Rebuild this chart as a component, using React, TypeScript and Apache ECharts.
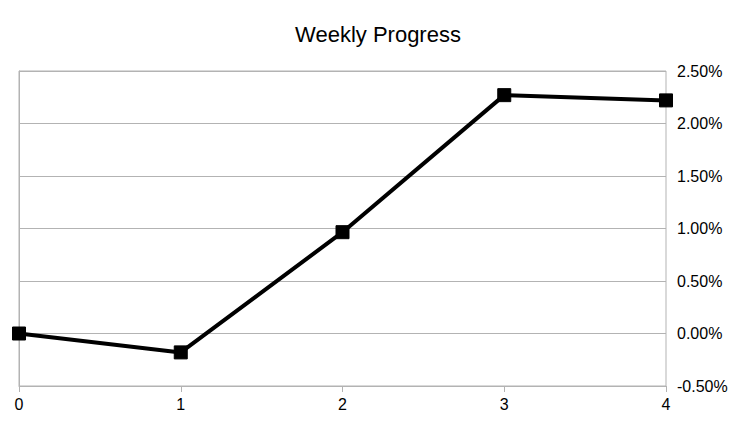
import React, { useEffect, useRef } from "react";
import * as echarts from "echarts";

const title = "Weekly Progress";
const xValues = [0, 1, 2, 3, 4];
const progress = [0.0, -0.18, 0.965, 2.27, 2.22];
const yMin = -0.5;
const yMax = 2.5;
const yStep = 0.5;

export default function App() {
  const ref = useRef<HTMLDivElement>(null);
  useEffect(() => {
    if (!ref.current) return;
    const chart = echarts.init(ref.current, undefined, { renderer: "svg" });
    const font = "'Liberation Sans', Arial, sans-serif";
    chart.setOption({
      animation: false,
      backgroundColor: "#ffffff",
      title: {
        text: title,
        left: "center",
        top: 18,
        textStyle: { fontFamily: font, fontSize: 22, fontWeight: "normal", color: "#000" },
      },
      grid: {
        left: 19,
        right: 90,
        top: 71,
        bottom: 40,
        show: true,
        borderColor: "#b3b3b3",
        borderWidth: 1,
      },
      xAxis: {
        type: "value",
        min: 0,
        max: 4,
        interval: 1,
        axisLine: { show: true, onZero: false, lineStyle: { color: "#b3b3b3", width: 1 } },
        axisTick: { show: true, length: 6, lineStyle: { color: "#b3b3b3" } },
        splitLine: { show: false },
        axisLabel: { fontFamily: font, fontSize: 16, color: "#000", margin: 10 },
      },
      yAxis: {
        type: "value",
        position: "right",
        min: yMin,
        max: yMax,
        interval: yStep,
        axisLine: { show: true, lineStyle: { color: "#b3b3b3", width: 1 } },
        axisTick: { show: true, length: 6, lineStyle: { color: "#b3b3b3" } },
        splitLine: { show: true, lineStyle: { color: "#b3b3b3", width: 1 } },
        axisLabel: {
          fontFamily: font,
          fontSize: 16,
          color: "#000",
          margin: 11,
          formatter: (v: number) => v.toFixed(2) + "%",
        },
      },
      series: [
        {
          type: "line",
          data: xValues.map((x, i) => [x, progress[i]]),
          symbol: "rect",
          symbolSize: 13,
          showAllSymbol: true,
          lineStyle: { color: "#000", width: 4 },
          itemStyle: { color: "#000", borderColor: "#000" },
        },
      ],
    });
    return () => chart.dispose();
  }, []);
  return <div ref={ref} style={{ width: 756, height: 426, position: "absolute", left: 0, top: 0 }} />;
}
